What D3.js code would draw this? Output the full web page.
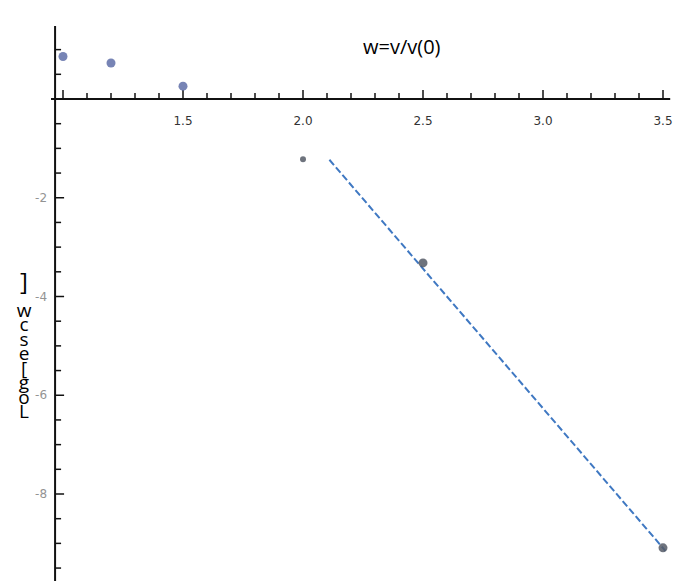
<!DOCTYPE html>
<html>
<head>
<meta charset="utf-8">
<script src="https://cdn.jsdelivr.net/npm/d3@7"></script>
<style>
  body { margin: 0; background: #fff; }
  svg { display: block; }
</style>
</head>
<body>
<div id="chart"></div>
<script>
// data
const xVals = [1.0, 1.2, 1.5, 2.0, 2.5, 3.5];
const yVals = [0.86, 0.73, 0.26, -1.22, -3.32, -9.09];
const fitX = [2.11, 3.51];
const fitY = [-1.23, -9.15];
const xTickLabels = [1.5, 2.0, 2.5, 3.0, 3.5];
const yTickLabels = [-2, -4, -6, -8];
const labelChars = ["]", "w", "c", "s", "e", "[", "g", "o", "L"];

const width = 691, height = 581;

const svg = d3.select("#chart").append("svg")
    .attr("width", width)
    .attr("height", height);

// scales: 1.0 -> 63px, 3.5 -> 663px ; 0 -> 99px, -8 -> 494px
const x = d3.scaleLinear().domain([1.0, 3.5]).range([63, 663]);
const y = d3.scaleLinear().domain([0, -8]).range([99, 494]);

const axisX0 = x(0.967);

// x axis (ticks pointing up, labels below)
const xAxis = svg.append("g").attr("transform", "translate(0," + y(0) + ")");
xAxis.append("line")
    .attr("x1", x(0.95)).attr("x2", x(3.53))
    .attr("stroke", "#111").attr("stroke-width", 2);
const xMinor = d3.range(10, 36).map(d => d / 10);
xAxis.selectAll("line.tk").data(xMinor).enter().append("line")
    .attr("class", "tk")
    .attr("x1", d => x(d)).attr("x2", d => x(d))
    .attr("y1", 0)
    .attr("y2", d => (Math.round(d * 10) % 5 === 0) ? -9 : -6)
    .attr("stroke", "#111").attr("stroke-width", 1.5);
xAxis.selectAll("text").data(xTickLabels).enter().append("text")
    .attr("x", d => x(d))
    .attr("y", 26)
    .attr("text-anchor", "middle")
    .attr("font-family", "DejaVu Sans, sans-serif")
    .attr("font-size", 12)
    .attr("fill", "#333")
    .text(d => d.toFixed(1));

// y axis (ticks pointing right, labels left)
const yAxis = svg.append("g");
yAxis.append("line")
    .attr("x1", axisX0).attr("x2", axisX0)
    .attr("y1", 26).attr("y2", height)
    .attr("stroke", "#111").attr("stroke-width", 2);
const yMinor = d3.range(-19, 3).map(d => d / 2).filter(d => d !== 0);
yAxis.selectAll("line.tk").data(yMinor).enter().append("line")
    .attr("class", "tk")
    .attr("x1", axisX0).attr("x2", d => axisX0 + (d % 2 === 0 ? 9 : 6))
    .attr("y1", d => y(d)).attr("y2", d => y(d))
    .attr("stroke", "#111").attr("stroke-width", 1.5);
yAxis.selectAll("text").data(yTickLabels).enter().append("text")
    .attr("x", axisX0 - 8)
    .attr("y", d => y(d) + 4)
    .attr("text-anchor", "end")
    .attr("font-family", "DejaVu Sans, sans-serif")
    .attr("font-size", 12)
    .attr("fill", "#666")
    .attr("opacity", 0.7)
    .text(d => d);

// fit line (dashed, blue)
const line = d3.line().x(d => x(d[0])).y(d => y(d[1]));
svg.append("path")
    .datum(d3.zip(fitX, fitY))
    .attr("d", line)
    .attr("fill", "none")
    .attr("stroke", "#3f78c2")
    .attr("stroke-width", 2)
    .attr("stroke-dasharray", "7,3");

// data points
svg.selectAll("circle.pt").data(d3.zip(xVals, yVals)).enter().append("circle")
    .attr("class", "pt")
    .attr("cx", d => x(d[0]))
    .attr("cy", d => y(d[1]))
    .attr("r", (d, i) => i === 3 ? 3 : 4.5)
    .attr("fill", (d, i) => i < 3 ? "#5f6fa8" : "#555a66")
    .attr("opacity", 0.85);

// title
svg.append("text")
    .attr("x", 363).attr("y", 54)
    .attr("font-family", "Open Sans, sans-serif")
    .attr("font-size", 20)
    .attr("fill", "#000")
    .text("w=v/v(0)");

// y label: letters stacked down the left edge
svg.append("g").selectAll("text").data(labelChars).enter().append("text")
    .attr("x", 24)
    .attr("y", (d, i) => i === 0 ? 290 : 302 + i * 14.5)
    .attr("text-anchor", "middle")
    .attr("font-family", "Open Sans, sans-serif")
    .attr("font-size", (d, i) => i === 0 ? 24 : 19)
    .attr("fill", "#000")
    .text(d => d);
</script>
</body>
</html>
